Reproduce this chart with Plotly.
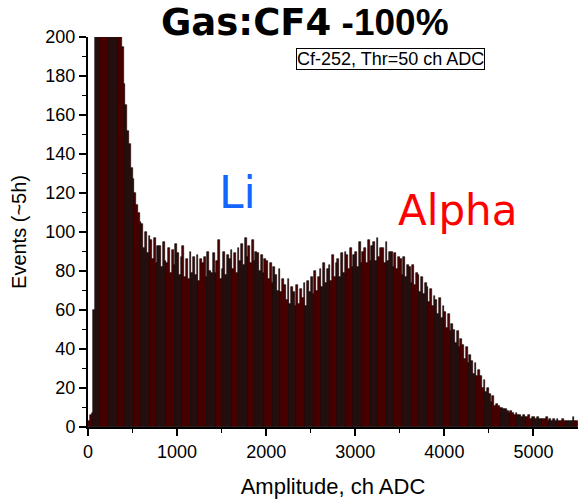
import plotly.graph_objects as go

# Histogram: 20-channel bins starting at 0 ch
BIN_WIDTH = 20
counts = [
    # 0-400
    3, 6, 7, 60, 250, 820, 960, 1010, 940, 860, 760, 650, 560, 470, 390, 320, 270, 230, 210, 195,
    # 400-600
    176, 165, 152, 145, 133, 127, 120, 114, 110, 105,
    # 600-1000
    104, 92, 100, 89, 98, 96, 86, 97, 84, 93, 93, 82, 95, 85, 84, 92, 79, 91, 83, 94,
    # 1000-1500
    89, 78, 87, 93, 77, 86, 76, 90, 79, 87, 78, 88, 75, 86, 84, 87, 77, 90, 80, 79, 89, 79, 85, 96, 76,
    # 1500-2000
    81, 90, 78, 88, 86, 91, 81, 89, 79, 92, 85, 94, 83, 97, 87, 93, 84, 96, 85, 90, 89, 80, 88, 79, 86,
    # 2000-2500
    85, 76, 84, 74, 82, 78, 70, 81, 69, 76, 73, 65, 76, 63, 72, 69, 62, 73, 63, 71, 66, 74, 62, 75, 69,
    # 2500-3000
    77, 68, 80, 70, 77, 81, 72, 84, 74, 81, 83, 75, 88, 77, 84, 86, 77, 89, 79, 90, 88, 81, 92, 82, 88,
    # 3000-3500
    90, 82, 95, 84, 90, 92, 84, 96, 85, 93, 95, 85, 97, 87, 92, 92, 84, 95, 85, 90, 90, 82, 89, 81, 87,
    # 3500-4000
    86, 78, 87, 77, 83, 82, 74, 83, 73, 79, 78, 69, 77, 68, 74, 72, 64, 71, 62, 67, 65, 58, 66, 56, 62,
    # 4000-4500
    59, 51, 58, 49, 53, 50, 43, 49, 41, 45, 42, 35, 41, 33, 37, 34, 27, 33, 26, 29, 26, 20, 24, 18, 20,
    # 4500-5000
    17, 13, 16, 11, 12, 11, 10, 10, 9, 9, 8, 7, 8, 7, 6, 7, 6, 6, 5, 6, 5, 5, 6, 4, 5,
    # 5000-5500
    5, 4, 5, 4, 4, 4, 4, 5, 3, 4, 3, 4, 3, 4, 3, 3, 4, 3, 3, 3, 3, 3, 5, 3, 3,
]
bin_centers = [BIN_WIDTH * i + BIN_WIDTH / 2 for i in range(len(counts))]

x_ticks = [0, 1000, 2000, 3000, 4000, 5000]
y_ticks = [0, 20, 40, 60, 80, 100, 120, 140, 160, 180, 200]

title_main = "Gas:CF4"
title_tail = " -100%"
box_text = "Cf-252, Thr=50 ch ADC"
x_title = "Amplitude, ch ADC"
y_title = "Events (~5h)"

fig = go.Figure()
fig.add_trace(go.Bar(
    x=bin_centers, y=counts, width=BIN_WIDTH,
    marker=dict(color="#4f0000", line=dict(color="black", width=0.6)),
    showlegend=False,
))

axis_font = dict(family="Liberation Sans, Arial, sans-serif", size=18, color="black")

fig.update_layout(
    width=578, height=501,
    margin=dict(l=88, r=0, t=37, b=74),
    paper_bgcolor="white", plot_bgcolor="white",
    bargap=0,
    xaxis=dict(
        range=[0, 5500], tickvals=x_ticks, ticks="outside", ticklen=7, tickwidth=1.5,
        tickcolor="black", showline=True, linecolor="black", linewidth=2,
        showgrid=False, zeroline=False, tickfont=axis_font,
        minor=dict(dtick=500, tick0=0, ticks="outside", ticklen=4, tickwidth=1.2, tickcolor="black"),
        title=dict(text=x_title, font=dict(family="Liberation Sans, Arial, sans-serif", size=22, color="black"), standoff=18),
    ),
    yaxis=dict(
        range=[0, 200], tickvals=y_ticks, ticks="outside", ticklen=7, tickwidth=1.5,
        tickcolor="black", showline=True, linecolor="black", linewidth=2,
        showgrid=False, zeroline=False, tickfont=axis_font,
        minor=dict(dtick=10, tick0=0, ticks="outside", ticklen=4, tickwidth=1.2, tickcolor="black"),
        title=dict(text=y_title, font=dict(family="Liberation Sans, Arial, sans-serif", size=20, color="black"), standoff=13),
    ),
)

def py(p):
    return (427 - p) / 390.0

def px(p):
    return (p - 88) / 490.0

fig.add_annotation(
    x=px(305), y=py(23), xref="paper", yref="paper", showarrow=False,
    xanchor="center", yanchor="middle",
    text=f"<b><span style='font-family:DejaVu Sans'>{title_main}</span>{title_tail}</b>",
    font=dict(family="Liberation Sans, Arial, sans-serif", size=37, color="black"),
)
fig.add_annotation(
    x=px(390), y=py(59), xref="paper", yref="paper", showarrow=False,
    xanchor="center", yanchor="middle", text=box_text,
    font=dict(family="Liberation Sans, Arial, sans-serif", size=18, color="black"),
    bordercolor="black", borderwidth=1, borderpad=0, bgcolor="white",
)
fig.add_annotation(
    x=px(237), y=py(192), xref="paper", yref="paper", showarrow=False,
    xanchor="center", yanchor="middle", text="Li",
    font=dict(family="DejaVu Sans, Verdana, sans-serif", size=44, color="#1464ff"),
)
fig.add_annotation(
    x=px(457), y=py(210), xref="paper", yref="paper", showarrow=False,
    xanchor="center", yanchor="middle", text="Alpha",
    font=dict(family="DejaVu Sans, Verdana, sans-serif", size=42, color="#ff0000"),
)

fig.write_html("out.html")
